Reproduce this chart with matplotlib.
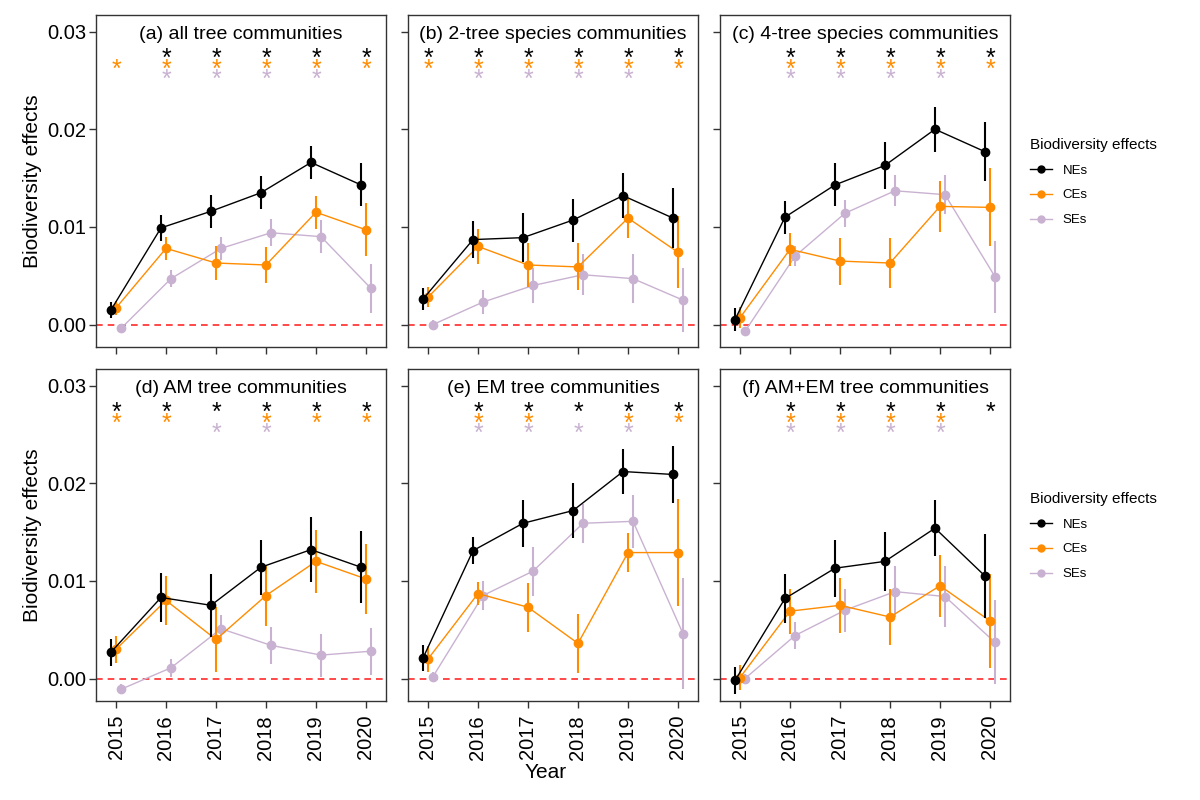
import matplotlib
matplotlib.use("Agg")
import matplotlib.pyplot as plt
from matplotlib.lines import Line2D
from matplotlib.transforms import offset_copy
import numpy as np

plt.rcParams["font.family"] = ["Liberation Sans", "DejaVu Sans"]

# ── DATA ─────────────────────────────────────────────

years = [2015, 2016, 2017, 2018, 2019, 2020]

panel_titles = [
    "(a) all tree communities",
    "(b) 2-tree species communities",
    "(c) 4-tree species communities",
    "(d) AM tree communities",
    "(e) EM tree communities",
    "(f) AM+EM tree communities",
]

# net effects (mean, error half-width), one row per panel a-f
ne_mean = [
    [0.0015, 0.0099, 0.0116, 0.0135, 0.0166, 0.0143],
    [0.0026, 0.0087, 0.0089, 0.0107, 0.0132, 0.0109],
    [0.0005, 0.0110, 0.0143, 0.0163, 0.0200, 0.0177],
    [0.0027, 0.0083, 0.0075, 0.0114, 0.0132, 0.0114],
    [0.0021, 0.0131, 0.0159, 0.0172, 0.0212, 0.0209],
    [-0.0002, 0.0082, 0.0113, 0.0120, 0.0154, 0.0105],
]
ne_err = [
    [0.0008, 0.0013, 0.0017, 0.0017, 0.0017, 0.0022],
    [0.0011, 0.0019, 0.0025, 0.0022, 0.0023, 0.0031],
    [0.0012, 0.0017, 0.0022, 0.0024, 0.0023, 0.0030],
    [0.0014, 0.0025, 0.0032, 0.0028, 0.0033, 0.0037],
    [0.0013, 0.0014, 0.0024, 0.0028, 0.0023, 0.0029],
    [0.0014, 0.0025, 0.0029, 0.0030, 0.0029, 0.0043],
]

# complementarity effects
ce_mean = [
    [0.0017, 0.0078, 0.0063, 0.0061, 0.0115, 0.0097],
    [0.0028, 0.0080, 0.0061, 0.0059, 0.0109, 0.0074],
    [0.0007, 0.0077, 0.0065, 0.0063, 0.0121, 0.0120],
    [0.0030, 0.0080, 0.0040, 0.0085, 0.0120, 0.0102],
    [0.0020, 0.0087, 0.0073, 0.0036, 0.0129, 0.0129],
    [0.0001, 0.0069, 0.0075, 0.0063, 0.0095, 0.0059],
]
ce_err = [
    [0.0007, 0.0012, 0.0017, 0.0018, 0.0017, 0.0027],
    [0.0010, 0.0018, 0.0023, 0.0024, 0.0020, 0.0037],
    [0.0011, 0.0017, 0.0024, 0.0026, 0.0026, 0.0040],
    [0.0014, 0.0025, 0.0033, 0.0031, 0.0032, 0.0036],
    [0.0013, 0.0012, 0.0025, 0.0030, 0.0020, 0.0055],
    [0.0013, 0.0023, 0.0028, 0.0029, 0.0032, 0.0048],
]

# selection effects
se_mean = [
    [-0.0004, 0.0047, 0.0078, 0.0094, 0.0090, 0.0037],
    [0.0000, 0.0023, 0.0040, 0.0051, 0.0047, 0.0025],
    [-0.0007, 0.0070, 0.0114, 0.0137, 0.0133, 0.0049],
    [-0.0011, 0.0011, 0.0051, 0.0034, 0.0024, 0.0028],
    [0.0002, 0.0085, 0.0110, 0.0159, 0.0161, 0.0046],
    [0.0000, 0.0044, 0.0070, 0.0089, 0.0084, 0.0037],
]
se_err = [
    [0.0003, 0.0009, 0.0012, 0.0014, 0.0017, 0.0025],
    [0.0005, 0.0012, 0.0018, 0.0021, 0.0025, 0.0033],
    [0.0004, 0.0010, 0.0014, 0.0016, 0.0020, 0.0037],
    [0.0005, 0.0009, 0.0014, 0.0019, 0.0022, 0.0024],
    [0.0005, 0.0015, 0.0025, 0.0020, 0.0027, 0.0057],
    [0.0005, 0.0014, 0.0022, 0.0026, 0.0031, 0.0043],
]

# significance stars (1 = significant)
ne_sig = [
    [0, 1, 1, 1, 1, 1],
    [1, 1, 1, 1, 1, 1],
    [0, 1, 1, 1, 1, 1],
    [1, 1, 1, 1, 1, 1],
    [0, 1, 1, 1, 1, 1],
    [0, 1, 1, 1, 1, 1],
]
ce_sig = [
    [1, 1, 1, 1, 1, 1],
    [1, 1, 1, 1, 1, 1],
    [0, 1, 1, 1, 1, 1],
    [1, 1, 0, 1, 1, 1],
    [0, 1, 1, 0, 1, 1],
    [0, 1, 1, 1, 1, 0],
]
se_sig = [
    [0, 1, 1, 1, 1, 0],
    [0, 1, 1, 1, 1, 0],
    [0, 1, 1, 1, 1, 0],
    [0, 0, 1, 1, 0, 0],
    [0, 1, 1, 1, 1, 0],
    [0, 1, 1, 1, 1, 0],
]

effect_names = ["NEs", "CEs", "SEs"]
colors = ["#000000", "#FF8C00", "#C9B2D1"]
star_y = [0.0277, 0.0266, 0.0256]
dodge = [-0.1, 0.0, 0.1]

# ── FIGURE ─────────────────────────────────────────────

W, H = 1200, 800
fig = plt.figure(figsize=(12, 8), dpi=100)

lefts = [96, 408, 720]
tops = [15, 369]
pw, ph = 290, 332

x = np.array(years, dtype=float)

for i in range(6):
    row, col = divmod(i, 3)
    l, t = lefts[col], tops[row]
    ax = fig.add_axes([l / W, 1 - (t + ph) / H, pw / W, ph / H])

    ax.axhline(0, color="#FF2A2A", lw=1.2, ls=(0, (4, 3)), zorder=1)

    means = [ne_mean[i], ce_mean[i], se_mean[i]]
    errs = [ne_err[i], ce_err[i], se_err[i]]
    sigs = [ne_sig[i], ce_sig[i], se_sig[i]]
    # draw SEs first so NEs sit on top
    for k in [2, 1, 0]:
        xs = x + dodge[k]
        ax.errorbar(xs, means[k], yerr=errs[k], color=colors[k], lw=1.0,
                    elinewidth=1.5, marker="o", ms=6, capsize=0, zorder=3 + (2 - k))

    trans = offset_copy(ax.transData, fig=fig, y=-8.5, units="points")
    for k in range(3):
        for j, yr in enumerate(years):
            if sigs[k][j]:
                ax.text(yr, star_y[k], "*", color=colors[k], fontsize=18,
                        ha="center", va="baseline", transform=trans, zorder=5)

    ax.set_title(panel_titles[i], fontsize=14, y=1.0, pad=-17)

    ax.set_xlim(2014.6, 2020.4)
    ax.set_ylim(-0.0023, 0.0317)
    ax.set_xticks(years)
    ax.set_yticks([0.0, 0.01, 0.02, 0.03])
    ax.tick_params(direction="out", length=5, width=1, color="#333333",
                   labelsize=14.5)
    ax.tick_params(axis="x", pad=5)
    ax.tick_params(axis="y", pad=2)
    if row == 1:
        ax.set_xticklabels([str(y) for y in years], rotation=90)
    else:
        ax.set_xticklabels([])
    if col == 0:
        ax.set_yticklabels(["0.00", "0.01", "0.02", "0.03"])
        ax.set_ylabel("Biodiversity effects", fontsize=15, labelpad=4)
    else:
        ax.set_yticklabels([])
    for s in ax.spines.values():
        s.set_color("#333333")
        s.set_linewidth(1.0)

fig.text(546 / W, 1 - 773 / H, "Year", fontsize=15, ha="center", va="center")

# ── LEGENDS ─────────────────────────────────────────────

handles = [Line2D([0], [0], color=c, lw=1.0, marker="o", ms=5) for c in colors]
for ty in [126, 480]:
    fig.legend(handles, effect_names, loc="upper left",
               bbox_to_anchor=(1018 / W, 1 - ty / H), frameon=False,
               title="Biodiversity effects", title_fontsize=11, fontsize=9.5,
               handlelength=1.7, labelspacing=0.95, alignment="left")

fig.savefig("out.png", dpi=100)
